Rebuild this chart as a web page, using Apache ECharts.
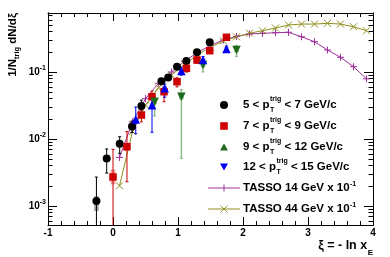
<!DOCTYPE html>
<html><head><meta charset="utf-8">
<script src="https://cdn.jsdelivr.net/npm/echarts@6/dist/echarts.min.js"></script>
<style>html,body{margin:0;padding:0;background:#fff}#c{width:390px;height:257px}</style>
</head><body><div id="c"></div>
<script>
// ---------- data ----------
const xTickValues = [-1, 0, 1, 2, 3, 4];
const yMajorExp = [-3, -2, -1];
const yMinorMult = [2, 3, 4, 5, 6, 7, 8, 9];

// 5 < pT < 7 (black circles)
const a_x  = [-0.255, -0.097, 0.103, 0.292, 0.437, 0.745, 0.85, 0.985, 1.129, 1.292, 1.488];
const a_y  = [1.19e-3, 5.1e-3, 8.5e-3, 0.0153, 0.031, 0.0726, 0.083, 0.12, 0.146, 0.197, 0.277];
const a_lo = [1e-4, 3.1e-3, 6.1e-3, 0.0125, 0.027, 0.066, 0.075, 0.11, 0.135, 0.185, 0.26];
const a_hi = [2.7e-3, 7.1e-3, 1.08e-2, 0.0185, 0.038, 0.079, 0.091, 0.13, 0.158, 0.21, 0.295];
const a_slo = [8.4e-4, 4.6e-3, 7.8e-3, 0.0142, 0.029, 0.068, 0.078, 0.113, 0.138, 0.187, 0.263];
const a_shi = [1.4e-3, 5.6e-3, 9.2e-3, 0.0164, 0.033, 0.077, 0.088, 0.127, 0.154, 0.207, 0.291];

// 7 < pT < 9 (red squares)
const b_x  = [0.0, 0.215, 0.437, 0.6, 0.785, 0.985, 1.13, 1.292, 1.488, 1.745];
const b_y  = [2.71e-3, 7.67e-3, 0.0228, 0.0428, 0.0508, 0.0716, 0.1135, 0.151, 0.208, 0.33];
const b_lo = [1e-4, 2.3e-3, 0.018, 0.030, 0.036, 0.06, 0.1, 0.135, 0.19, 0.30];
const b_hi = [7.0e-3, 0.0129, 0.028, 0.052, 0.06, 0.082, 0.125, 0.168, 0.225, 0.36];
const b_slo = [2.1e-3, 6.6e-3, 0.0205, 0.0385, 0.0458, 0.0645, 0.102, 0.136, 0.187, 0.30];
const b_shi = [3.5e-3, 8.8e-3, 0.0251, 0.047, 0.056, 0.079, 0.125, 0.166, 0.229, 0.36];

// 9 < pT < 12 (green)
const c_x  = [0.64, 1.052, 1.385, 1.9];
const c_y  = [0.036, 0.0428, 0.127, 0.213];
const c_lo = [0.022, 5.1e-3, 0.10, 0.17];
const c_hi = [0.043, 0.055, 0.15, 0.25];
const c_slo = [0.033, 0.039, 0.117, 0.196];
const c_shi = [0.039, 0.047, 0.138, 0.232];

// 12 < pT < 15 (blue)
const d_x  = [0.35, 0.6, 0.795, 1.052, 1.385, 1.745];
const d_y  = [0.0195, 0.032, 0.057, 0.1035, 0.151, 0.22];
const d_lo = [0.012, 0.0126, 0.042, 0.09, 0.13, 0.2];
const d_hi = [0.030, 0.040, 0.066, 0.115, 0.17, 0.245];
const d_slo = [0.0178, 0.029, 0.052, 0.095, 0.139, 0.203];
const d_shi = [0.0213, 0.035, 0.062, 0.113, 0.164, 0.238];

// TASSO curves (x 0.1)
const t_x   = [0.1, 0.3, 0.5, 0.7, 0.9, 1.1, 1.3, 1.5, 1.7, 1.9, 2.1, 2.3, 2.5, 2.7, 2.9, 3.1, 3.3, 3.5, 3.7, 3.9];
const t14_y = [5.3e-3, 0.018, 0.040, 0.068, 0.10, 0.145, 0.195, 0.25, 0.30, 0.34, 0.37, 0.378, 0.386, 0.392, 0.336, 0.283, 0.213, 0.166, 0.12, 0.079];
const t44_y = [2.0e-3, 0.013, 0.032, 0.058, 0.09, 0.13, 0.18, 0.235, 0.29, 0.335, 0.38, 0.413, 0.454, 0.503, 0.52, 0.52, 0.533, 0.52, 0.474, 0.413];

// ---------- helpers ----------
const L = Math.log10;
const FONT = '"Liberation Sans", Arial, sans-serif';
const PURPLE = '#a0309c', OLIVE = '#8f8f1f';
const RED = '#cc0000', GREEN = '#1e6b1e', BLUE = '#0000ee';
const plusPath = 'path://M5,0L5,10M0,5L10,5';
const crossPath = 'path://M0,0L10,10M10,0L0,10';

function pts(xs, ys) { return xs.map((x, i) => [x, L(ys[i])]); }
function bars(xs, lo, hi) { return xs.map((x, i) => [x, L(lo[i]), L(hi[i])]); }

function errSeries(xs, lo, hi, color, width) {
  return {
    type: 'custom', clip: true, silent: true, z: 3,
    data: bars(xs, lo, hi),
    renderItem: function (params, api) {
      const x = api.value(0);
      const p1 = api.coord([x, api.value(1)]);
      const p2 = api.coord([x, api.value(2)]);
      return { type: 'group', children: [
        { type: 'line', shape: { x1: p1[0], y1: p1[1], x2: p2[0], y2: p2[1] }, style: { stroke: color, lineWidth: width } },
        { type: 'line', shape: { x1: p2[0] - 1.5, y1: p2[1], x2: p2[0] + 1.5, y2: p2[1] }, style: { stroke: color, lineWidth: 1 } },
        { type: 'line', shape: { x1: p1[0] - 1.5, y1: p1[1], x2: p1[0] + 1.5, y2: p1[1] }, style: { stroke: color, lineWidth: 1 } }
      ]};
    }
  };
}
function sysSeries(xs, lo, hi, color) {
  return {
    type: 'custom', clip: true, silent: true, z: 2,
    data: bars(xs, lo, hi),
    renderItem: function (params, api) {
      const x = api.value(0);
      const p1 = api.coord([x - 0.036, api.value(2)]);
      const p2 = api.coord([x + 0.036, api.value(1)]);
      return { type: 'rect', shape: { x: p1[0], y: p1[1], width: p2[0] - p1[0], height: p2[1] - p1[1] }, style: { fill: color } };
    }
  };
}
function markSeries(xs, ys, symbol, size, color, rot) {
  return { type: 'scatter', z: 4, symbol: symbol, symbolSize: size, symbolRotate: rot || 0,
    itemStyle: { color: color, opacity: 1 }, data: pts(xs, ys), silent: true };
}
function tassoSeries(ys, color, path) {
  return { type: 'line', z: 1, data: pts(t_x, ys), symbol: path, symbolSize: 7, showSymbol: true,
    lineStyle: { color: color, width: 1 },
    itemStyle: { color: color, borderColor: color, borderWidth: 1 }, silent: true };
}

const yMin = -3.284, yMax = -0.119;
const minorVals = [];
[-4, -3, -2, -1].forEach(e => yMinorMult.forEach(m => { const v = L(m * Math.pow(10, e)); if (v > yMin && v < yMax) minorVals.push(v); }));

function yAx(pos, vals, len, labels) {
  return {
    type: 'value', position: pos, min: yMin, max: yMax, offset: 0,
    splitLine: { show: false },
    axisLine: { show: true, onZero: false, lineStyle: { color: '#000', width: 1 } },
    axisTick: { show: true, inside: true, length: len, customValues: vals, lineStyle: { color: '#000', width: 1 } },
    axisLabel: labels ? {
      show: true, customValues: vals, margin: 2,
      formatter: v => '{b|10}{s|' + Math.round(v) + '}',
      rich: {
        b: { fontFamily: FONT, fontWeight: 'bold', fontSize: 10, color: '#000' },
        s: { fontFamily: FONT, fontWeight: 'bold', fontSize: 7, color: '#000', padding: [0, 0, 7, 0] }
      }
    } : { show: false }
  };
}
function xAx(pos, labels) {
  return {
    type: 'value', position: pos, min: xTickValues[0], max: xTickValues[xTickValues.length - 1], interval: 1,
    splitLine: { show: false },
    axisLine: { show: true, onZero: false, lineStyle: { color: '#000', width: 1 } },
    axisTick: { show: true, inside: true, length: 8, lineStyle: { color: '#000' } },
    minorTick: { show: true, splitNumber: 5, length: 4, lineStyle: { color: '#000' } },
    axisLabel: labels ? { show: true, margin: 3, fontFamily: FONT, fontWeight: 'bold', fontSize: 10, color: '#000' } : { show: false }
  };
}

// ---------- text measuring for legend / titles ----------
const mctx = document.createElement('canvas').getContext('2d');
function tw(s, size) { mctx.font = 'bold ' + size + 'px ' + FONT; return mctx.measureText(s).width; }
function txt(x, y, s, size, align) {
  return { type: 'text', x: x, y: y, silent: true, style: { text: s, fill: '#000', font: 'bold ' + size + 'px ' + FONT,
    align: align || 'left', verticalAlign: 'middle', textAlign: align || 'left', textVerticalAlign: 'middle' } };
}

const legendRows = [
  { lo: '5', hi: '7' }, { lo: '7', hi: '9' }, { lo: '9', hi: '12' }, { lo: '12', hi: '15' }
];
const tassoLabels = ['TASSO 14 GeV x 10', 'TASSO 44 GeV x 10'];
const rowY = [105, 126, 147, 167, 188, 209];
const symX = 224, textX = 243, FS = 11.5;
const g = [];
// legend symbols
g.push({ type: 'circle', shape: { cx: symX, cy: rowY[0], r: 4 }, style: { fill: '#000' }, silent: true });
g.push({ type: 'rect', shape: { x: symX - 3.8, y: rowY[1] - 3.8, width: 7.6, height: 7.6 }, style: { fill: RED }, silent: true });
g.push({ type: 'polygon', shape: { points: [[symX - 4, rowY[2] + 3.5], [symX + 4, rowY[2] + 3.5], [symX, rowY[2] - 3.5]] }, style: { fill: GREEN }, silent: true });
g.push({ type: 'polygon', shape: { points: [[symX - 4, rowY[3] - 3.5], [symX + 4, rowY[3] - 3.5], [symX, rowY[3] + 3.5]] }, style: { fill: BLUE }, silent: true });
[[PURPLE, rowY[4], 'plus'], [OLIVE, rowY[5], 'cross']].forEach(([col, y, k]) => {
  g.push({ type: 'line', shape: { x1: 208, y1: y, x2: 240, y2: y }, style: { stroke: col, lineWidth: 1 }, silent: true });
  if (k === 'plus') {
    g.push({ type: 'line', shape: { x1: symX, y1: y - 3.5, x2: symX, y2: y + 3.5 }, style: { stroke: col, lineWidth: 1 }, silent: true });
  } else {
    g.push({ type: 'line', shape: { x1: symX - 3.5, y1: y - 3.5, x2: symX + 3.5, y2: y + 3.5 }, style: { stroke: col, lineWidth: 1 }, silent: true });
    g.push({ type: 'line', shape: { x1: symX + 3.5, y1: y - 3.5, x2: symX - 3.5, y2: y + 3.5 }, style: { stroke: col, lineWidth: 1 }, silent: true });
  }
});
// legend texts
legendRows.forEach((r, i) => {
  const y = rowY[i];
  const left = r.lo + ' < p';
  const w1 = tw(left, FS);
  g.push(txt(textX, y, left, FS));
  g.push(txt(textX + w1 + 0.5, y - 6, 'trig', 7));
  g.push(txt(textX + w1 + 0.5, y + 5, 'T', 7));
  const ws = Math.max(tw('trig', 7), tw('T', 7));
  g.push(txt(textX + w1 + ws + 0.5, y, ' < ' + r.hi + ' GeV/c', FS));
});
tassoLabels.forEach((s, i) => {
  const y = rowY[4 + i];
  g.push(txt(textX, y, s, FS));
  g.push(txt(textX + tw(s, FS) + 0.5, y - 4, '-1', 7));
});
// x axis title: "ξ = - ln x" with subscript E, right aligned at 373
{
  const sub = 'E', main = '\u03BE = - ln x';
  const wsub = tw(sub, 8);
  g.push(txt(373, 253, sub, 8, 'right'));
  g.push(txt(373 - wsub - 0.5, 246, main, 12.5, 'right'));
}
// y axis title, rotated
{
  const parts = [['1/N', 11.5, 0], ['trig', 7.5, 4], [' dN/d', 11.5, 0], ['\u03BE', 11.5, 0]];
  const W = parts.reduce((s, p) => s + tw(p[0], p[1]), 0);
  let x = -W;
  const ch = [];
  parts.forEach(p => { ch.push(txt(x, p[2], p[0], p[1])); x += tw(p[0], p[1]); });
  g.push({ type: 'group', x: 13, y: 13, rotation: Math.PI / 2, children: ch });
}

const chart = echarts.init(document.getElementById('c'), null, { renderer: 'canvas' });
chart.setOption({
  animation: false,
  backgroundColor: '#fff',
  grid: { left: 48, right: 17, top: 13, bottom: 32, show: false },
  xAxis: [xAx('bottom', true), xAx('top', false)],
  yAxis: [
    yAx('left', yMajorExp, 9, true),
    yAx('left', minorVals, 4.5, false),
    yAx('right', yMajorExp, 9, false),
    yAx('right', minorVals, 4.5, false)
  ],
  series: [
    tassoSeries(t14_y, PURPLE, plusPath),
    tassoSeries(t44_y, OLIVE, crossPath),
    sysSeries(a_x, a_slo, a_shi, '#a8a8a8'),
    sysSeries(b_x, b_slo, b_shi, '#f3a0a0'),
    sysSeries(c_x, c_slo, c_shi, '#a8c8a8'),
    sysSeries(d_x, d_slo, d_shi, '#b0b0f4'),
    errSeries(a_x, a_lo, a_hi, '#000', 1),
    errSeries(b_x, b_lo, b_hi, RED, 1),
    errSeries(c_x, c_lo, c_hi, '#8fb98f', 1.5),
    errSeries(d_x, d_lo, d_hi, BLUE, 1),
    markSeries(a_x, a_y, 'circle', 8, '#000'),
    markSeries(b_x, b_y, 'rect', 7.5, RED),
    markSeries(c_x, c_y, 'triangle', 8.5, GREEN, 180),
    markSeries(d_x, d_y, 'triangle', 8.5, BLUE)
  ],
  graphic: g
});
</script>
</body></html>
